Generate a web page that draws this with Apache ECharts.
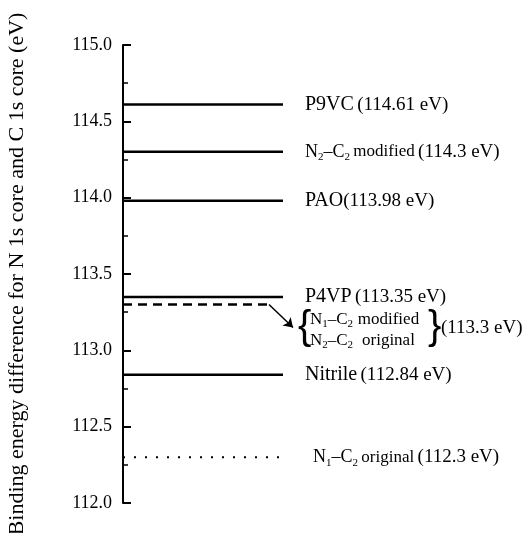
<!DOCTYPE html>
<html>
<head>
<meta charset="utf-8">
<script src="https://cdn.jsdelivr.net/npm/echarts@6/dist/echarts.min.js"></script>
<style>
  html, body { margin: 0; padding: 0; background: #fff; }
  #main { width: 529px; height: 533px; }
</style>
</head>
<body>
<div id="main"></div>
<script>
// energy levels (eV), top to bottom
const levelValues = [114.61, 114.3, 113.98, 113.35, 113.3, 112.84, 112.3];
const levelStyles = ['solid', 'solid', 'solid', 'solid', 'dashed', 'solid', 'dotted'];
const levelLabels = [
  '{name|P9VC} {val|(114.61 eV)}',
  '{n|N}{sub|2}{n|–C}{sub|2} {w|modified} {val|(114.3 eV)}',
  '{name|PAO}{val|(113.98 eV)}',
  '{name|P4VP} {val|(113.35 eV)}',
  '',
  '{name|Nitrile} {val|(112.84 eV)}',
  '{n|N}{sub|1}{n|–C}{sub|2} {w|original} {val|(112.3 eV)}'
];
// the bracketed pair pointed at by the arrow
const bracketLines = [
  '{n|N}{sub|1}{n|–C}{sub|2} {w|modified}',
  '{n|N}{sub|2}{n|–C}{sub|2} {w|original}'
];
const bracketValue = '(113.3 eV)';
const yMin = 112, yMax = 115, yStep = 0.5, yMinorStep = 0.25;
const yName = 'Binding energy difference for N 1s core and C 1s core (eV)';

const SERIF = 'Liberation Serif';
const GRID_W = 406;
const LINE_END = 160;
const DASH_END = 147;
const ARROW_FROM = [146, 113.3];
const ARROW_TO = [170, 113.15];
const BRACKET_AT = [175, 113.135];

const rich = {
  name: { fontFamily: SERIF, fontSize: 20, color: '#000', lineHeight: 22 },
  val: { fontFamily: SERIF, fontSize: 19, color: '#000', lineHeight: 22 },
  n: { fontFamily: SERIF, fontSize: 18, color: '#000', lineHeight: 22 },
  w: { fontFamily: SERIF, fontSize: 17, color: '#000', lineHeight: 22 },
  sub: { fontFamily: SERIF, fontSize: 11, color: '#000', verticalAlign: 'bottom', lineHeight: 22 }
};
const bracketRich = {
  n: { fontFamily: SERIF, fontSize: 17, color: '#000', lineHeight: 21 },
  w: { fontFamily: SERIF, fontSize: 17, color: '#000', lineHeight: 21, width: 64, align: 'center' },
  sub: { fontFamily: SERIF, fontSize: 11, color: '#000', verticalAlign: 'bottom', lineHeight: 21 }
};

const chart = echarts.init(document.getElementById('main'));

const series = levelValues.map((v, i) => ({
  type: 'line',
  data: [[0, v], [levelStyles[i] === 'dashed' ? DASH_END : LINE_END, v]],
  symbol: 'none',
  silent: true,
  lineStyle: {
    color: '#000',
    width: levelStyles[i] === 'dotted' ? 2 : 2.5,
    type: levelStyles[i] === 'dashed' ? [9, 6] : levelStyles[i] === 'dotted' ? [2, 9] : 'solid'
  },
  endLabel: {
    show: levelLabels[i] !== '',
    formatter: levelLabels[i],
    distance: levelStyles[i] === 'dotted' ? 30 : 22,
    rich: rich
  }
}));

// arrow from the dashed level to the bracket
series.push({
  type: 'lines',
  coordinateSystem: 'cartesian2d',
  silent: true,
  symbol: ['none', 'arrow'],
  symbolSize: 9,
  lineStyle: { color: '#000', width: 1.5, opacity: 1 },
  data: [{ coords: [ARROW_FROM, ARROW_TO] }]
});

// bracket annotation
const bracketParts = [
  { text: '{', dx: 0, font: 'Liberation Sans', size: 40 },
  { text: bracketLines.join('\n'), dx: 12, rich: true },
  { text: '}', dx: 130, font: 'Liberation Sans', size: 40 },
  { text: bracketValue, dx: 143, font: SERIF, size: 19 }
];
series.push({
  type: 'scatter',
  silent: true,
  symbolSize: 0,
  itemStyle: { color: '#000', opacity: 1 },
  data: bracketParts.map(p => ({
    value: BRACKET_AT,
    label: p.rich ? {
      show: true, position: 'right', distance: 0, offset: [p.dx, 0],
      formatter: p.text, color: '#000', rich: bracketRich
    } : {
      show: true, position: 'right', distance: 0, offset: [p.dx, -2],
      formatter: p.text, fontFamily: p.font, fontSize: p.size, color: '#000'
    }
  }))
});

// right-side axes moved back onto the left edge so their ticks point into the plot
function tickAxis(step, len, width) {
  return {
    type: 'value',
    position: 'right',
    offset: -GRID_W,
    min: yMin,
    max: yMax,
    interval: step,
    axisLine: { show: false },
    axisTick: { show: true, inside: false, length: len, lineStyle: { color: '#000', width: width } },
    axisLabel: { show: false },
    splitLine: { show: false }
  };
}

chart.setOption({
  animation: false,
  backgroundColor: '#fff',
  grid: { left: 123, top: 45, bottom: 30, width: GRID_W, outerBoundsMode: 'none' },
  xAxis: { type: 'value', min: 0, max: GRID_W, show: false },
  yAxis: [{
    type: 'value',
    min: yMin,
    max: yMax,
    interval: yStep,
    name: yName,
    nameLocation: 'middle',
    nameGap: 95,
    nameRotate: 90,
    nameTextStyle: { fontFamily: SERIF, fontSize: 22, color: '#000' },
    axisLine: { show: true, lineStyle: { color: '#000', width: 2 } },
    axisTick: { show: false },
    splitLine: { show: false },
    axisLabel: {
      formatter: v => v.toFixed(1),
      fontFamily: SERIF,
      fontSize: 18,
      color: '#000',
      margin: 11
    }
  }, tickAxis(yMinorStep, 5, 1.5), tickAxis(yStep, 8, 2)],
  series: series
});
</script>
</body>
</html>
